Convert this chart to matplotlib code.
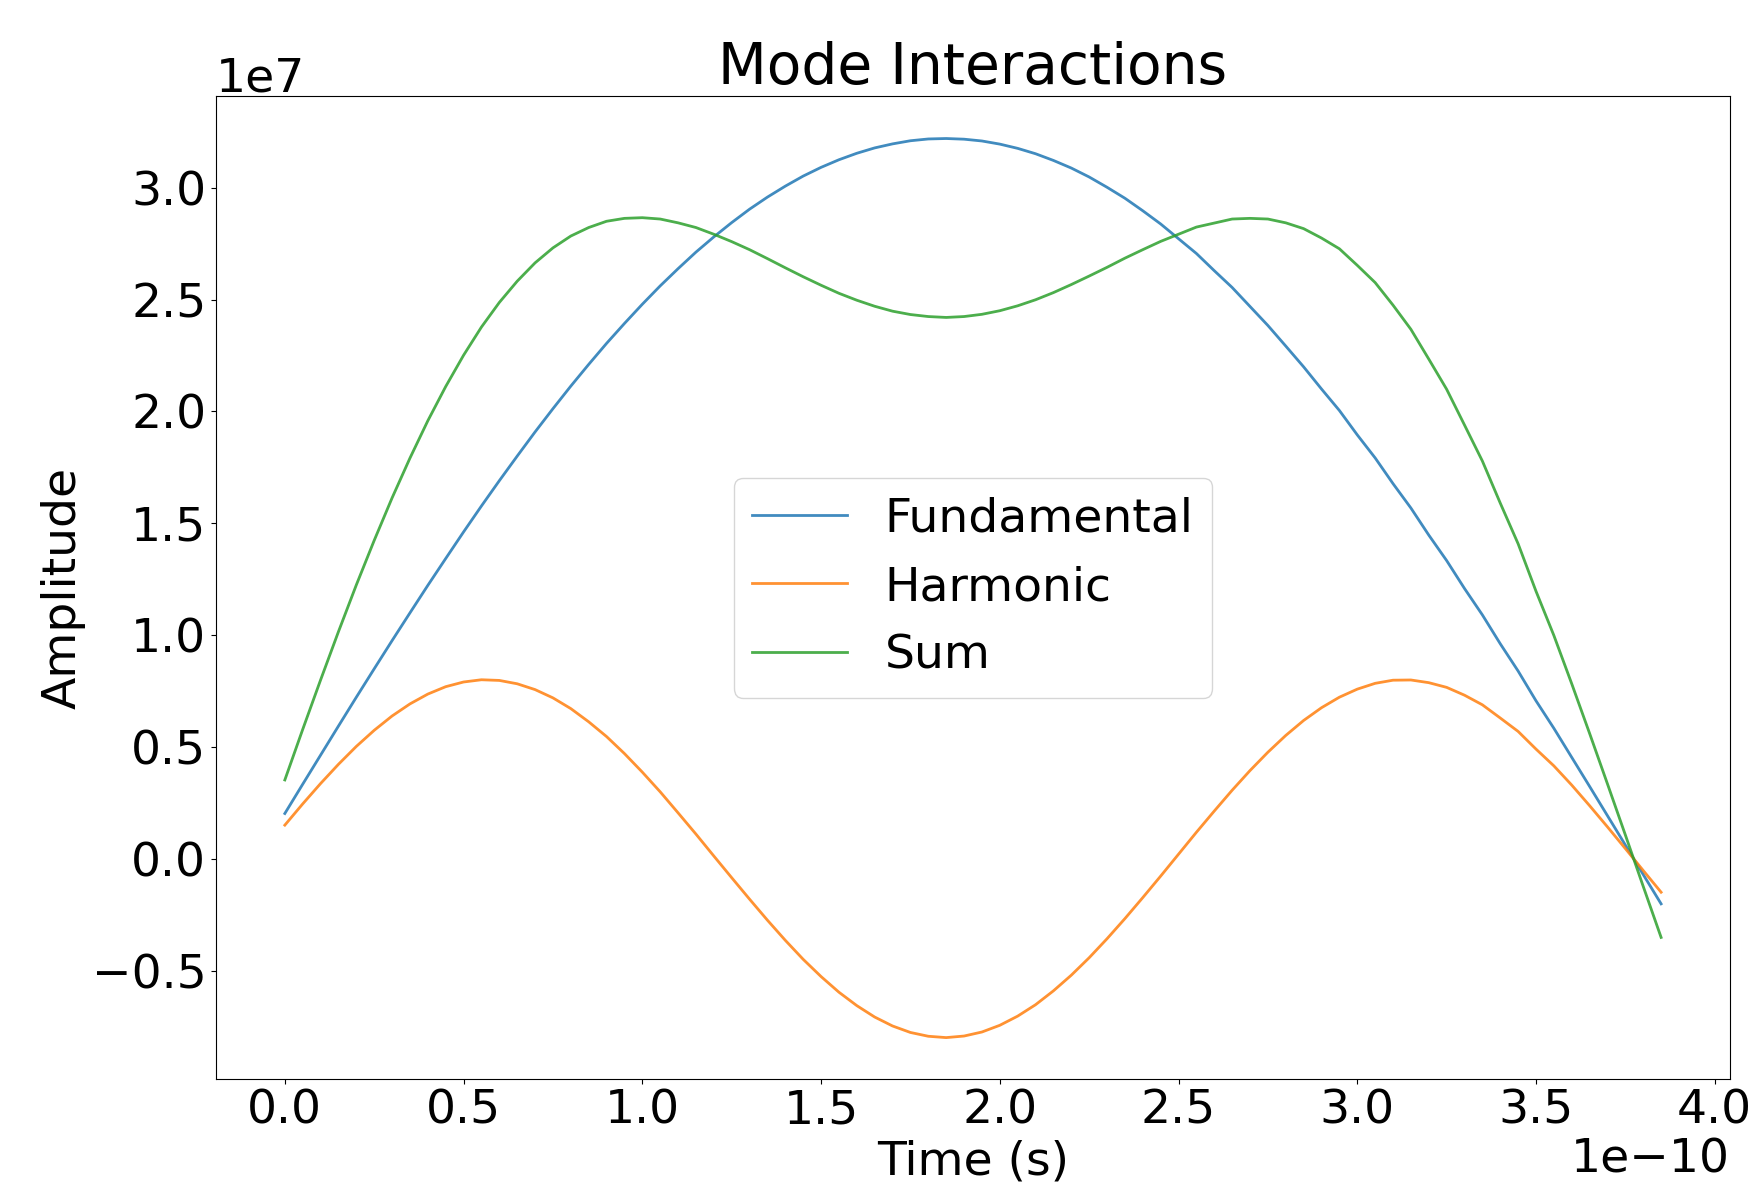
import numpy as np
import matplotlib
matplotlib.use("Agg")
from matplotlib import pyplot as plt

# time in units of 1e-10 s, amplitudes in units of 1e7
time_e10 = [0.0, 0.05, 0.1, 0.15, 0.2, 0.25, 0.3, 0.35, 0.4, 0.45,
            0.5, 0.55, 0.6, 0.65, 0.7, 0.75, 0.8, 0.85, 0.9, 0.95,
            1.0, 1.05, 1.1, 1.15, 1.2, 1.25, 1.3, 1.35, 1.4, 1.45,
            1.5, 1.55, 1.6, 1.65, 1.7, 1.75, 1.8, 1.85, 1.9, 1.95,
            2.0, 2.05, 2.1, 2.15, 2.2, 2.25, 2.3, 2.35, 2.4, 2.45,
            2.5, 2.55, 2.6, 2.65, 2.7, 2.75, 2.8, 2.85, 2.9, 2.95,
            3.0, 3.05, 3.1, 3.15, 3.2, 3.25, 3.3, 3.35, 3.4, 3.45,
            3.5, 3.55, 3.6, 3.65, 3.7, 3.75, 3.8, 3.85]
fundamental_e7 = [0.202, 0.333, 0.463, 0.593, 0.722, 0.849, 0.975, 1.099, 1.222, 1.342,
                  1.461, 1.577, 1.690, 1.800, 1.908, 2.012, 2.113, 2.210, 2.304, 2.393,
                  2.479, 2.561, 2.638, 2.712, 2.780, 2.844, 2.904, 2.958, 3.007, 3.052,
                  3.091, 3.125, 3.154, 3.178, 3.196, 3.210, 3.218, 3.220, 3.217, 3.209,
                  3.195, 3.176, 3.152, 3.122, 3.088, 3.048, 3.002, 2.953, 2.897, 2.838,
                  2.772, 2.706, 2.629, 2.554, 2.469, 2.384, 2.292, 2.199, 2.100, 2.004,
                  1.895, 1.792, 1.677, 1.568, 1.447, 1.333, 1.208, 1.090, 0.961, 0.839,
                  0.706, 0.583, 0.453, 0.323, 0.192, 0.061, -0.071, -0.202]
harmonic_e7 = [0.150, 0.245, 0.336, 0.422, 0.502, 0.574, 0.638, 0.692, 0.736, 0.769,
               0.790, 0.800, 0.797, 0.782, 0.756, 0.719, 0.671, 0.612, 0.546, 0.470,
               0.387, 0.299, 0.205, 0.110, 0.012, -0.085, -0.181, -0.275, -0.365, -0.450,
               -0.527, -0.597, -0.657, -0.708, -0.748, -0.777, -0.794, -0.800, -0.793, -0.775,
               -0.745, -0.704, -0.653, -0.591, -0.521, -0.443, -0.358, -0.268, -0.174, -0.078,
               0.020, 0.118, 0.213, 0.306, 0.394, 0.476, 0.551, 0.618, 0.675, 0.722,
               0.758, 0.784, 0.798, 0.799, 0.787, 0.766, 0.731, 0.688, 0.629, 0.569,
               0.490, 0.415, 0.329, 0.237, 0.142, 0.045, -0.053, -0.150]
sum_e7 = [0.352, 0.578, 0.799, 1.015, 1.224, 1.423, 1.613, 1.791, 1.958, 2.111,
          2.251, 2.377, 2.487, 2.582, 2.664, 2.731, 2.784, 2.822, 2.850, 2.863,
          2.866, 2.860, 2.843, 2.822, 2.792, 2.759, 2.723, 2.683, 2.642, 2.602,
          2.564, 2.528, 2.497, 2.470, 2.448, 2.433, 2.424, 2.420, 2.424, 2.434,
          2.450, 2.472, 2.499, 2.531, 2.567, 2.605, 2.644, 2.685, 2.723, 2.760,
          2.792, 2.824, 2.842, 2.860, 2.863, 2.860, 2.843, 2.817, 2.775, 2.727,
          2.653, 2.576, 2.475, 2.367, 2.234, 2.099, 1.939, 1.778, 1.590, 1.408,
          1.196, 0.998, 0.782, 0.560, 0.334, 0.106, -0.124, -0.352]

t = np.array(time_e10) * 1e-10
fund = np.array(fundamental_e7) * 1e7
harm = np.array(harmonic_e7) * 1e7
total = np.array(sum_e7) * 1e7

plt.rcParams['font.size'] = 34

fig = plt.figure(figsize=(17.52, 11.84), dpi=100)
ax = fig.add_axes([0.1233, 0.0887, 0.8641, 0.8302])

ax.plot(t, fund, color='#1f77b4', lw=2, alpha=0.85, label='Fundamental')
ax.plot(t, harm, color='#ff7f0e', lw=2, alpha=0.85, label='Harmonic')
ax.plot(t, total, color='#2ca02c', lw=2, alpha=0.85, label='Sum')

ax.set_ylim(-0.985e7, 3.41e7)
ax.set_title('Mode Interactions')
ax.set_xlabel('Time (s)')
ax.set_ylabel('Amplitude')
ax.legend(loc='center')

fig.savefig('out.png', dpi=100)
